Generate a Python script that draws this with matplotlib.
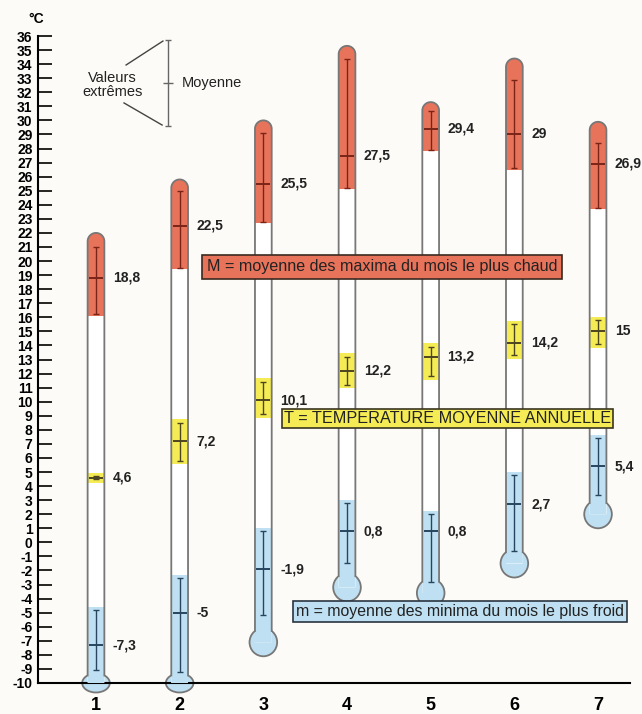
import numpy as np
import matplotlib.pyplot as plt
from matplotlib.patches import Polygon, Ellipse

plt.rcParams['font.family'] = ['Liberation Sans', 'DejaVu Sans']
plt.rcParams['axes.unicode_minus'] = False

stations = [1, 2, 3, 4, 5, 6, 7]

# M = moyenne des maxima du mois le plus chaud
max_mean = [18.8, 22.5, 25.5, 27.5, 29.4, 29.0, 26.9]
max_high = [21.0, 25.0, 29.1, 34.4, 30.7, 32.9, 28.4]
max_low = [16.2, 19.5, 22.8, 25.2, 27.9, 26.6, 23.8]
tube_top = [22.0, 25.8, 30.0, 35.3, 31.3, 34.4, 29.9]

# T = temperature moyenne annuelle
ann_mean = [4.6, 7.2, 10.1, 12.2, 13.2, 14.2, 15.0]
ann_high = [4.7, 8.5, 11.4, 13.2, 13.9, 15.5, 15.8]
ann_low = [4.5, 5.8, 9.1, 11.2, 11.8, 13.3, 14.1]

# m = moyenne des minima du mois le plus froid
min_mean = [-7.3, -5.0, -1.9, 0.8, 0.8, 2.7, 5.4]
min_high = [-4.8, -2.5, 0.8, 2.8, 2.0, 4.8, 7.4]
min_low = [-9.1, -9.2, -5.2, -1.5, -2.8, -0.6, 3.4]
bulb_level = [-10.0, -10.0, -7.1, -3.2, -3.6, -1.5, 2.0]

red = '#e8735b'
yellow = '#f5ec55'
blue = '#bfe0f2'
glass = '#777777'
bg = '#fcfbf7'


def lab(v):
    return f"{v:g}".replace('.', ',')


fig = plt.figure(figsize=(6.42, 7.14), dpi=100, facecolor=bg)
ax = fig.add_axes([38/642, 31/714, 592/642, 647/714], facecolor=bg)
ax.set_xlim(0.307, 7.382)
ax.set_ylim(-10, 36)

tw = 0.2      # largeur du tube
bw = 0.33     # largeur du reservoir
hh = 0.6      # arrondi du haut

for i, x in enumerate(stations):
    base = bulb_level[i]
    top = tube_top[i]
    bh = 1.35 if base <= -10 else 2.0

    # reservoir
    bulb = Ellipse((x, base), bw, bh, fc=blue, ec=glass, lw=1.3, zorder=2, clip_on=False)
    ax.add_patch(bulb)

    # tube
    t = np.linspace(np.pi, 0, 40)
    y0 = base + bh / 2 * np.sqrt(1 - (tw / bw) ** 2)
    xs = np.concatenate([[x - tw/2], x + tw/2*np.cos(t), [x + tw/2]])
    ys = np.concatenate([[y0], top - hh + hh*np.sin(t), [y0]])
    tube = Polygon(np.column_stack([xs, np.concatenate([[base], ys[1:-1], [base]])]),
                   closed=True, fc='white', ec='none', zorder=3)
    ax.add_patch(tube)

    segs = [(max_low[i] - 0.1, top + 0.1, red),
            (ann_low[i] - 0.25, ann_high[i] + 0.25, yellow),
            (base, min_high[i] + 0.2, blue)]
    for lo, hi, c in segs:
        b = ax.bar(x, hi - lo, bottom=lo, width=tw, color=c, zorder=4)
        b[0].set_clip_path(tube)

    ax.plot(xs, ys, color=glass, lw=1.3, zorder=5)

# moyennes et valeurs extremes
groups = [(max_mean, max_high, max_low, '#7a2418'),
          (ann_mean, ann_high, ann_low, '#4d4520'),
          (min_mean, min_high, min_low, '#284560')]
for mean, high, low, c in groups:
    mean = np.array(mean)
    ax.errorbar(stations, mean, yerr=[mean - np.array(low), np.array(high) - mean],
                fmt='none', ecolor=c, elinewidth=1, capsize=2.5, capthick=1, zorder=6)
    ax.plot(stations, mean, ls='none', marker='_', ms=10, mew=1.4, color=c, zorder=6)
    for x, v in zip(stations, mean):
        ax.text(x + 0.2, v, lab(v), ha='left', va='center', fontsize=10,
                fontweight='bold', color='#222222', zorder=7)

# legende des barres
ax.errorbar([1.86], [32.66], yerr=[[3.06], [3.04]], fmt='none', ecolor='#666666',
            elinewidth=1, capsize=2.5)
ax.plot([1.86], [32.66], ls='none', marker='_', ms=7, mew=1, color='#666666')
ax.plot([1.36, 1.80], [33.94, 35.64], color='#444444', lw=1)
ax.plot([1.335, 1.79], [31.24, 29.67], color='#444444', lw=1)
ax.text(1.2, 32.5, 'Valeurs\nextrêmes', ha='center', va='center', fontsize=10.5,
        linespacing=1.0, color='#222222')
ax.text(2.03, 32.66, 'Moyenne', ha='left', va='center', fontsize=10.5, color='#222222')

# cadres explicatifs
ax.text(4.42, 19.6, 'M = moyenne des maxima du mois le plus chaud', ha='center', va='center',
        fontsize=11.6, color='#222222', zorder=8,
        bbox=dict(boxstyle='square,pad=0.28', fc=red, ec='#3a2a20', lw=1.2))
ax.text(5.2, 8.78, 'T = TEMPERATURE MOYENNE ANNUELLE', ha='center', va='center',
        fontsize=11.7, color='#222222', zorder=8,
        bbox=dict(boxstyle='square,pad=0.12', fc=yellow, ec='#3a3520', lw=1.2))
ax.text(5.35, -4.94, 'm = moyenne des minima du mois le plus froid', ha='center', va='center',
        fontsize=11.4, color='#222222', zorder=8,
        bbox=dict(boxstyle='square,pad=0.2', fc=blue, ec='#2a3540', lw=1.2))

# axes
for s in ['top', 'right']:
    ax.spines[s].set_visible(False)
ax.spines['left'].set_linewidth(1.5)
ax.spines['bottom'].set_linewidth(1.5)
ax.set_yticks(range(-10, 37))
ax.tick_params(axis='y', direction='in', length=10, width=1.2, pad=4, labelsize=10)
for t in ax.get_yticklabels():
    t.set_fontweight('bold')
ax.set_xticks(stations)
ax.set_xticklabels([str(s) for s in stations], fontsize=13, fontweight='bold')
ax.tick_params(axis='x', length=0, pad=10)

fig.text(36/642, 1 - 19/714, '°C', ha='center', va='center', fontsize=10, fontweight='bold')

fig.savefig('out.png', dpi=100, facecolor=bg)
